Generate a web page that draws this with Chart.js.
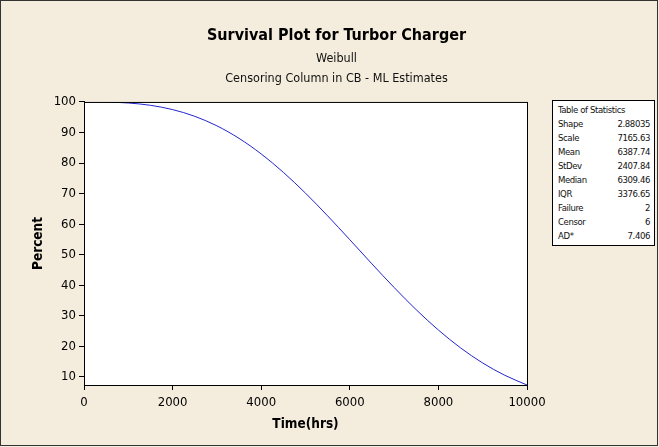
<!DOCTYPE html>
<html>
<head>
<meta charset="utf-8">
<script src="https://cdn.jsdelivr.net/npm/chart.js@4"></script>
<style>
  body { margin: 0; background: #f4eddd; }
  #wrap { position: relative; width: 659px; height: 447px; }
  #stats {
    position: absolute; left: 552px; top: 100px; width: 103px;
    background: #fff; border: 1px solid #000; box-sizing: border-box;
    font-family: "DejaVu Sans Condensed", "DejaVu Sans", sans-serif; font-size: 9.5px;
    letter-spacing: -0.4px; color: #111; padding: 2px 4px 2px 5px;
  }
  #stats table { border-collapse: collapse; width: 100%; }
  #stats td { padding: 0; height: 14px; line-height: 14px; white-space: nowrap; }
  #stats td.v { text-align: right; }
</style>
</head>
<body>
<div id="wrap">
  <canvas id="chart" width="659" height="447"></canvas>
  <div id="stats"><table id="statsTable"></table></div>
</div>
<script>
// time (hrs) and survival percent
const times = [0, 500, 1000, 1500, 2000, 2500, 3000, 3500, 4000, 4500, 5000,
               5500, 6000, 6500, 7000, 7500, 8000, 8500, 9000, 9500, 10000];
const percents = [100, 99.95, 99.66, 98.9, 97.5, 95.3, 92.18, 88.08, 82.98, 76.96, 70.14,
                  62.71, 54.9, 46.99, 39.27, 31.97, 25.33, 19.49, 14.54, 10.51, 7.34];
const yTicks = [10, 20, 30, 40, 50, 60, 70, 80, 90, 100];
const statNames = ['Shape', 'Scale', 'Mean', 'StDev', 'Median', 'IQR', 'Failure', 'Censor', 'AD*'];
const statValues = ['2.88035', '7165.63', '6387.74', '2407.84', '6309.46', '3376.65', '2', '6', '7.406'];

let rows = '<tr><td colspan="2">Table of Statistics</td></tr>';
for (let i = 0; i < statNames.length; i++) {
  rows += '<tr><td>' + statNames[i] + '</td><td class="v">' + statValues[i] + '</td></tr>';
}
document.getElementById('statsTable').innerHTML = rows;

const pts = [];
for (let i = 0; i < times.length; i++) pts.push({x: times[i], y: percents[i]});

const fontFam = '"DejaVu Sans Condensed", "DejaVu Sans", sans-serif';

const frame = {
  id: 'frame',
  beforeDraw(chart) {
    const c = chart.ctx, a = chart.chartArea;
    c.save();
    c.fillStyle = '#f4eddd';
    c.fillRect(0, 0, chart.width, chart.height);
    c.strokeStyle = '#333';
    c.lineWidth = 1;
    c.strokeRect(0.5, 0.5, chart.width - 2, chart.height - 2);
    c.fillStyle = '#fff';
    c.fillRect(a.left, a.top, a.right - a.left, a.bottom - a.top);
    c.restore();
  },
  afterDraw(chart) {
    const c = chart.ctx, a = chart.chartArea;
    c.save();
    c.strokeStyle = '#000';
    c.lineWidth = 1;
    c.strokeRect(a.left + 0.5, a.top + 0.5, a.right - a.left, a.bottom - a.top);
    c.restore();
  }
};

new Chart(document.getElementById('chart'), {
  type: 'line',
  data: {
    datasets: [{
      data: pts,
      borderColor: '#2424d0',
      borderWidth: 1,
      pointRadius: 0,
      cubicInterpolationMode: 'monotone',
      fill: false
    }]
  },
  options: {
    responsive: false,
    animation: false,
    layout: { padding: { left: 14, right: 0, top: 26, bottom: 14 } },
    plugins: {
      legend: { display: false },
      tooltip: { enabled: false },
      title: {
        display: true,
        text: 'Survival Plot for Turbor Charger',
        color: '#000',
        font: { family: fontFam, size: 16, weight: 'bold' },
        padding: { top: 0, bottom: 4 }
      },
      subtitle: {
        display: true,
        text: ['Weibull', 'Censoring Column in CB - ML Estimates'],
        color: '#111',
        font: { family: fontFam, size: 12.5, lineHeight: 1.55 },
        padding: { top: 0, bottom: 14 }
      }
    },
    scales: {
      x: {
        type: 'linear',
        min: 0,
        max: 10000,
        ticks: {
          stepSize: 2000, color: '#000', font: { family: fontFam, size: 13 }, padding: 5,
          callback: v => String(v)
        },
        grid: { drawOnChartArea: false, tickLength: 5, color: '#000' },
        border: { color: '#000' },
        title: { display: true, text: 'Time(hrs)', color: '#000', font: { family: fontFam, size: 13.5, weight: 'bold' }, padding: 0 },
        afterFit(s) { s.height = 48; }
      },
      y: {
        min: 7.34,
        max: 100,
        afterBuildTicks(s) { s.ticks = yTicks.map(v => ({value: v})); },
        ticks: { color: '#000', font: { family: fontFam, size: 13 }, padding: 3 },
        grid: { drawOnChartArea: false, tickLength: 5, color: '#000' },
        border: { color: '#000' },
        title: { display: true, text: 'Percent', color: '#000', font: { family: fontFam, size: 13.5, weight: 'bold' }, padding: { top: 16, bottom: 0 } },
        afterFit(s) { s.width = 70; }
      },
      // empty right-hand space for the statistics table
      side: {
        position: 'right',
        min: 0,
        max: 1,
        ticks: { display: false },
        grid: { display: false },
        border: { display: false },
        afterFit(s) { s.width = 132; }
      }
    }
  },
  plugins: [frame]
});
</script>
</body>
</html>
